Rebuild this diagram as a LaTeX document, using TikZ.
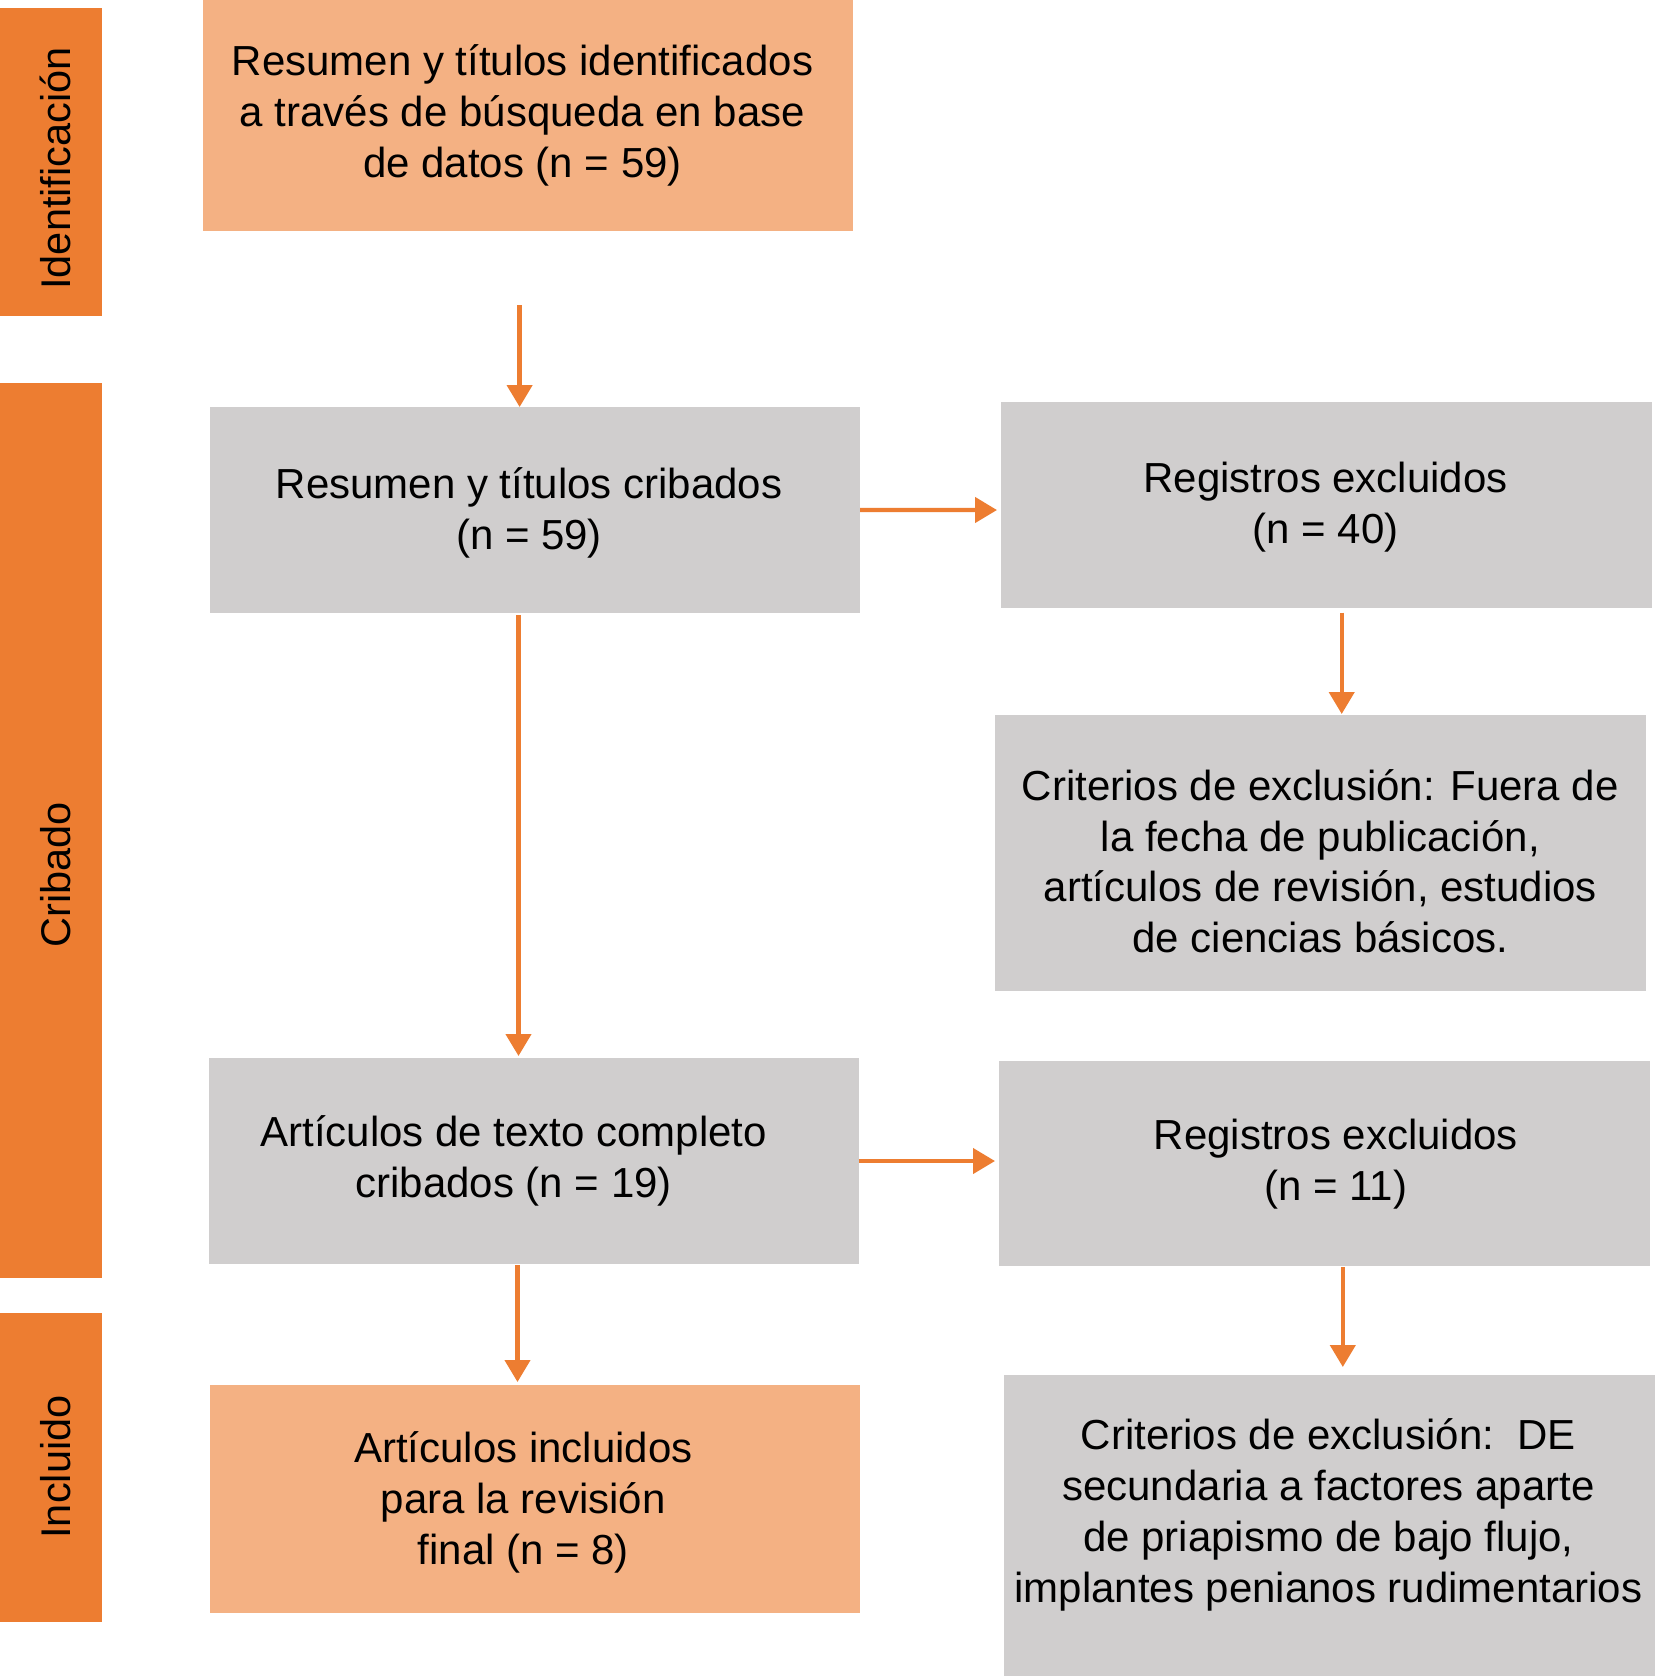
\documentclass[tikz,border=0pt]{standalone}
\usepackage{fontspec}
\setmainfont{Liberation Sans}
\usetikzlibrary{arrows.meta}
\definecolor{obar}{HTML}{ED7D31}
\definecolor{obox}{HTML}{F4B183}
\definecolor{gbox}{HTML}{D0CECE}
\begin{document}
\begin{tikzpicture}[x=1pt,y=-1pt,
  box/.style={inner sep=0pt, outer sep=0pt, anchor=north west},
  txt/.style={align=center, inner sep=0pt, font=\fontsize{42}{50.8}\selectfont},
  side/.style={fill=obar, inner sep=0pt, outer sep=0pt, anchor=north west, minimum width=101.6pt},
  sidetxt/.style={rotate=90, inner sep=0pt, anchor=base, font=\fontsize{41.5}{49}\selectfont},
  arr/.style={draw=obar, line width=4.3pt, -{Triangle[length=22pt,width=25pt]}}]
\useasboundingbox (0,0) rectangle (1655,1676);
\fill[white] (0,0) rectangle (1655,1676);
% side bars
\node[side, minimum height=308pt] (s1) at (0,7.5) {};
\node[side, minimum height=895pt] (s2) at (0,383) {};
\node[side, minimum height=309pt] (s3) at (0,1313) {};
\node[sidetxt] (l1) at (70.5,168.5) {Identificación};
\node[sidetxt] (l2) at (70.5,875) {Cribado};
\node[sidetxt] (l3) at (70.5,1467) {Incluido};
% boxes
\node[box, fill=obox, minimum width=650pt, minimum height=231pt] (b1) at (203,0) {};
\node[box, fill=gbox, minimum width=650.5pt, minimum height=206pt] (b2) at (209.5,407) {};
\node[box, fill=gbox, minimum width=651.4pt, minimum height=205.7pt] (b3) at (1000.6,402) {};
\node[box, fill=gbox, minimum width=651pt, minimum height=276pt] (b4) at (995,715) {};
\node[box, fill=gbox, minimum width=650pt, minimum height=206pt] (b5) at (208.5,1058) {};
\node[box, fill=gbox, minimum width=651.5pt, minimum height=205.5pt] (b6) at (998.5,1060.5) {};
\node[box, fill=obox, minimum width=650.5pt, minimum height=228.5pt] (b7) at (209.5,1384.5) {};
\node[box, fill=gbox, minimum width=651pt, minimum height=301pt] (b8) at (1004,1375) {};
% texts
\node[txt] (t1) at (522.5,115.5) {Resumen y títulos identificados\\a través de búsqueda en base\\de datos (n = 59)};
\node[txt] (t2) at (529,512.9) {Resumen y títulos cribados\\(n = 59)};
\node[txt] (t3) at (1325.7,507.5) {Registros excluidos\\(n = 40)};
\node[txt] (t4) at (1320.3,861.2) {Criterios de exclusión: Fuera de\\la fecha de publicación,\\artículos de revisión, estudios\\de ciencias básicos.};
\node[txt] (t5) at (513.7,1160.8) {Artículos de texto completo\\cribados (n = 19)};
\node[txt] (t6) at (1335.8,1164.5) {Registros excluidos\\(n = 11)};
\node[txt] (t7) at (523.3,1502.4) {Artículos incluidos\\para la revisión\\final (n = 8)};
\node[txt] (t8) at (1328.4,1514.7) {Criterios de exclusión:\ \ DE\\secundaria a factores aparte\\de priapismo de bajo flujo,\\implantes penianos rudimentarios};
% arrows
\draw[arr, shorten <=74pt] ([xshift=-8.4pt]b1.south) -- ([xshift=-15.15pt]b2.north);
\draw[arr, shorten >=3.6pt] (b2.east) -- ([yshift=-5.15pt]b3.west);
\draw[arr, shorten <=5pt, shorten >=1pt] ([xshift=15.4pt]b3.south) -- ([xshift=21.2pt]b4.north);
\draw[arr, shorten <=2pt, shorten >=2pt] ([xshift=-16.25pt]b2.south) -- ([xshift=-15pt]b5.north);
\draw[arr, shorten >=3.5pt] (b5.east) -- ([yshift=2.25pt]b6.west);
\draw[arr, shorten <=1pt, shorten >=2.5pt] ([xshift=-16pt]b5.south) -- ([xshift=-17.25pt]b7.north);
\draw[arr, shorten <=1pt, shorten >=8pt] ([xshift=18.55pt]b6.south) -- ([xshift=13.3pt]b8.north);
\end{tikzpicture}
\end{document}
